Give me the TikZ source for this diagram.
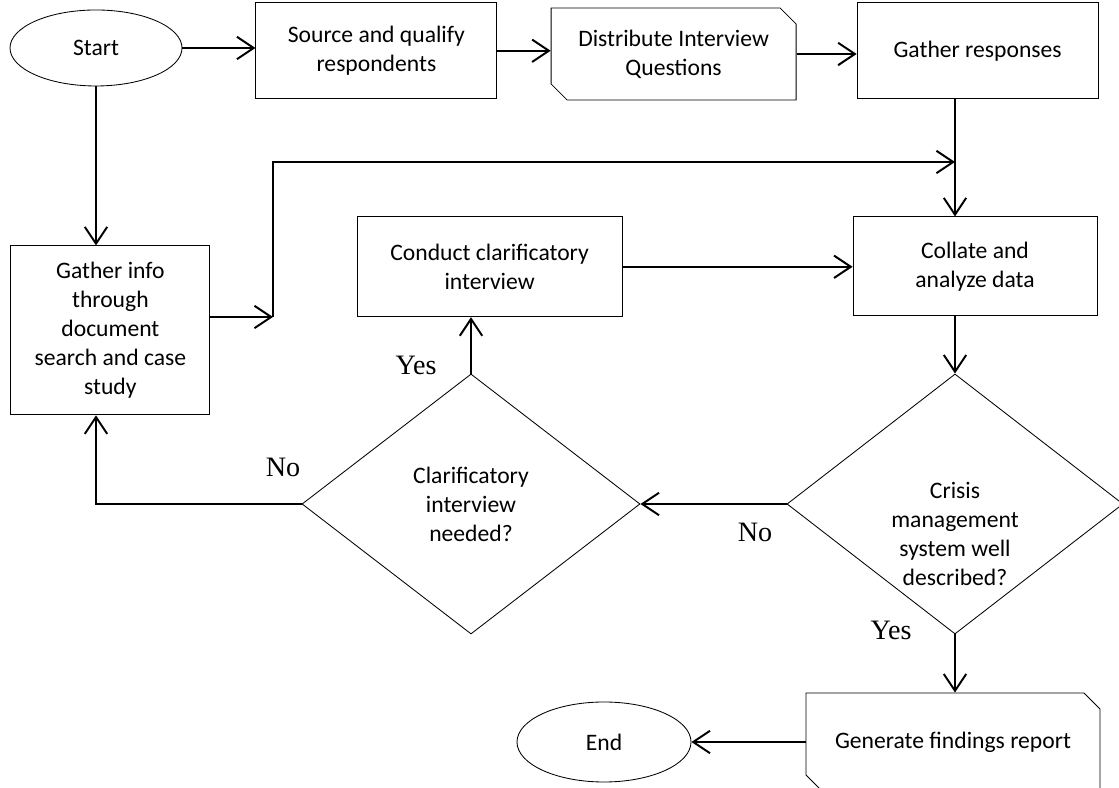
\documentclass[tikz,border=0pt]{standalone}
\usepackage{fontspec}
\setmainfont{Carlito}
\newfontfamily\answerfont{Liberation Serif}
\usetikzlibrary{positioning}
\usetikzlibrary{calc}
\usetikzlibrary{arrows.meta}
\usetikzlibrary{shapes.misc}
\usetikzlibrary{shapes.geometric}

\begin{document}
\begin{tikzpicture}[
    every node/.style={font=\fontsize{16.8}{20.6}\selectfont, align=center},
    proc/.style={draw, line width=0.6pt, inner sep=2pt},
    cutproc/.style={proc, chamfered rectangle, chamfered rectangle corners={north east, south west},
        chamfered rectangle xsep=0.2cm, chamfered rectangle ysep=0.2cm},
    term/.style={draw, ellipse, line width=0.6pt},
    choice/.style={draw, diamond, line width=0.6pt, inner sep=0pt},
    answer/.style={font=\answerfont\fontsize{20}{24}\selectfont},
    line/.style={line width=1.4pt},
    flow/.style={line, -{Straight Barb[length=4.2mm,width=5.6mm]}}
]
    \useasboundingbox (0,0) rectangle (27.975,19.7);

    % top row
    \node[term, minimum width=4.3cm, minimum height=1.9cm] (start) at (2.4,18.5) {Start};
    \node[proc, minimum width=6.025cm, minimum height=2.4cm] (source) at (9.41,18.43) {Source and qualify\\respondents};
    \node[cutproc, minimum width=6.125cm, minimum height=2.3cm] (dist) at (16.84,18.35) {Distribute Interview\\Questions};
    \node[proc, minimum width=6.025cm, minimum height=2.4cm] (resp) at (24.44,18.43) {Gather responses};

    % middle
    \node[proc, minimum width=4.975cm, minimum height=4.225cm] (info) at (2.76,11.44) {Gather info\\through\\document\\search and case\\study};
    \node[proc, minimum width=6.625cm, minimum height=2.5cm] (conduct) at (12.24,13.03) {Conduct clarificatory\\interview};
    \node[proc, minimum width=6.1cm, minimum height=2.475cm] (collate) at (24.375,13.04) {Collate and\\analyze data};

    % decisions
    \node[choice, minimum width=8.45cm, minimum height=6.5cm] (clar) at (11.775,7.1) {Clarificatory\\interview\\needed?};
    \node[choice, minimum width=8.4cm, minimum height=6.5cm] (crisis) at (23.875,7.1) {};
    \node (crisistext) at ($(crisis.center)+(0,-0.75)$) {Crisis\\management\\system well\\described?};

    % bottom
    \node[cutproc, minimum width=7.35cm, minimum height=2.45cm] (report) at (23.825,1.15) {Generate findings report};
    \node[term, minimum width=4.35cm, minimum height=2cm] (end) at (15.1,1.15) {End};

    \coordinate (jog) at (6.825,11.775);
    \coordinate (merge) at (23.875,15.65);

    \draw[flow] (start.east) -- (start.east -| source.west);
    \draw[flow] (source.east) -- (source.east -| dist.west);
    \draw[flow] (dist.east) -- (dist.east -| resp.west);
    \draw[flow] (resp.south -| crisis.north) -- (collate.north -| crisis.north);
    \draw[flow] (start.south) -- (start.south |- info.north);
    \draw[flow] (info.east |- jog) -- (jog);
    \draw[flow] (jog) -- (jog |- merge) -- (merge);
    \draw[flow] (conduct.east) -- (conduct.east -| collate.west);
    \draw[flow] (collate.south -| crisis.north) -- (crisis.north);
    \draw[flow] (crisis.west) -- (clar.east);
    \draw[flow] (clar.north) -- (clar.north |- conduct.south);
    \draw[flow] (clar.west) -| (info.south -| start.south);
    \draw[flow] (crisis.south) -- (crisis.south |- report.north);
    \draw[flow] (report.west) -- (end.east);

    % answers
    \node[answer] (yesup) at (10.4,10.575) {Yes};
    \node[answer] (noleft) at (7.075,8.025) {No};
    \node[answer] (nomid) at (18.875,6.4) {No};
    \node[answer] (yesdown) at (22.275,3.93) {Yes};
\end{tikzpicture}
\end{document}
